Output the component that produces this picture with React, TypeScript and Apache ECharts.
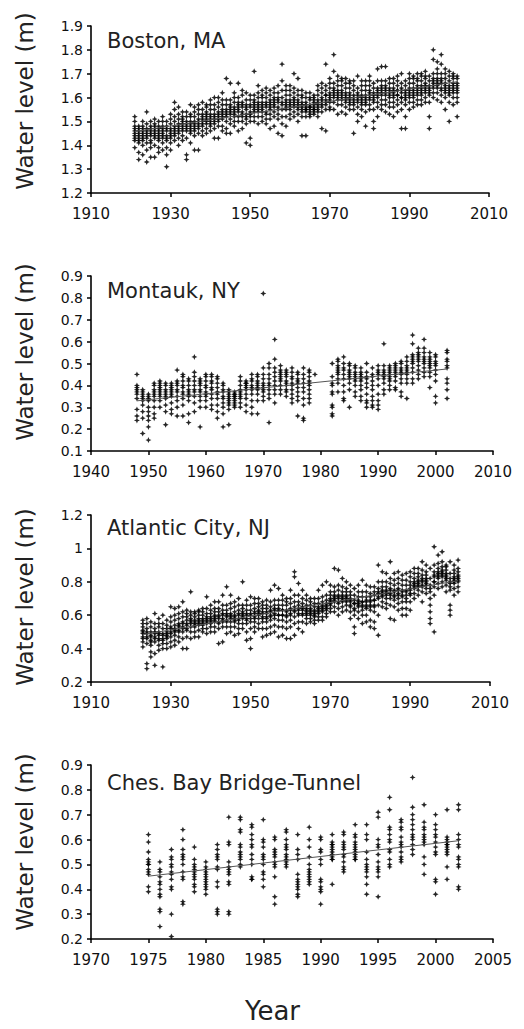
import React, { useEffect, useRef } from "react";
import * as echarts from "echarts";

// Monthly mean water levels, grouped by year: [year, values in cm...]
const bostonCm: number[][] = [
  [1921,152,150,147,146,145,144,143,142,139,148],
  [1922,134,137,142,144,145,146,148,143,141,147],
  [1923,136,140,143,145,146,147,148,150,144,142],
  [1924,154,133,138,141,144,146,147,149,145,143],
  [1925,135,139,142,144,145,147,148,150,146,141],
  [1926,135,140,143,145,146,148,149,151,147,144],
  [1927,137,139,142,144,146,147,148,150,145,143],
  [1928,138,141,143,145,147,148,150,152,146,144],
  [1929,131,136,139,142,144,146,148,150,147,143],
  [1930,138,141,143,145,147,149,151,153,146,144],
  [1931,142,144,146,148,150,152,155,158,147,145],
  [1932,140,143,145,147,149,151,153,156,148,146],
  [1933,142,144,146,148,149,151,152,154,147,150],
  [1934,134,136,143,146,148,150,152,154,147,149],
  [1935,141,145,147,149,150,152,153,157,148,146],
  [1936,138,144,146,148,150,152,154,156,149,147],
  [1937,138,145,147,149,151,153,155,157,150,148],
  [1938,144,146,148,150,152,153,155,158,151,149],
  [1939,145,147,149,151,153,154,156,157,152,150],
  [1940,146,148,150,152,153,155,157,159,151,149],
  [1941,143,147,149,151,153,155,157,160,152,150],
  [1942,143,148,150,152,154,156,158,160,153,151],
  [1943,146,148,151,153,155,157,159,162,154,152],
  [1944,145,147,150,152,155,157,159,168,154,153],
  [1945,145,149,151,153,155,157,159,166,156,154],
  [1946,148,150,152,154,156,158,160,162,155,153],
  [1947,146,150,152,154,156,158,160,166,157,155],
  [1948,147,150,152,154,156,158,161,163,157,153],
  [1949,141,149,151,153,155,157,159,162,156,152],
  [1950,140,143,150,152,154,157,159,161,156,153],
  [1951,150,152,154,156,157,159,161,171,158,155],
  [1952,149,152,154,156,158,160,162,165,157,155],
  [1953,150,152,154,156,158,160,161,163,157,155],
  [1954,149,151,153,156,158,160,162,164,157,154],
  [1955,147,151,153,155,157,159,161,163,158,156],
  [1956,148,152,154,156,158,160,162,164,159,157],
  [1957,145,151,153,155,158,160,162,165,159,156],
  [1958,144,149,152,155,158,160,163,174,167,157],
  [1959,148,152,155,157,159,161,163,165,158,156],
  [1960,151,153,155,157,159,161,163,165,158,156],
  [1961,152,154,156,158,160,162,164,170,159,157],
  [1962,150,153,155,157,159,161,163,168,158,156],
  [1963,144,152,154,156,158,160,161,163,157,155],
  [1964,144,152,154,155,157,158,160,162,156,155],
  [1965,152,153,155,156,157,159,160,162,156,154],
  [1966,153,154,155,157,158,159,160,161,156,155],
  [1967,152,154,156,157,159,161,163,165,158,155],
  [1968,147,154,156,158,160,162,164,166,159,157],
  [1969,146,155,157,159,161,163,165,174,161,158],
  [1970,155,156,158,160,162,164,166,168,161,159],
  [1971,155,158,160,162,164,166,171,178,163,161],
  [1972,153,157,159,161,163,165,167,169,162,160],
  [1973,154,157,159,161,163,165,167,168,162,160],
  [1974,153,156,158,160,162,164,166,168,161,159],
  [1975,155,157,159,161,162,164,166,167,160,158],
  [1976,145,155,157,159,161,163,165,167,160,158],
  [1977,150,153,156,158,160,162,164,169,161,159],
  [1978,152,155,157,159,161,163,165,167,160,158],
  [1979,148,154,157,159,161,163,165,167,160,158],
  [1980,155,157,159,161,163,165,167,169,162,160],
  [1981,147,150,155,158,160,162,164,166,161,159],
  [1982,152,156,158,160,162,164,167,172,163,161],
  [1983,155,157,159,161,163,165,167,173,164,162],
  [1984,154,157,159,161,163,165,167,173,164,162],
  [1985,153,156,158,160,162,164,166,168,163,161],
  [1986,152,156,158,160,162,164,166,168,163,161],
  [1987,154,157,159,161,163,165,167,169,163,161],
  [1988,147,155,158,160,162,164,166,170,163,160],
  [1989,147,152,157,159,161,163,165,167,162,160],
  [1990,155,158,160,162,164,166,168,170,163,161],
  [1991,156,158,160,162,164,166,168,169,163,161],
  [1992,157,159,161,163,165,167,168,170,164,162],
  [1993,157,159,161,163,165,167,169,170,164,162],
  [1994,158,160,162,164,166,168,169,171,165,163],
  [1995,147,152,158,161,163,165,167,169,164,162],
  [1996,160,162,164,166,168,170,176,180,167,165],
  [1997,159,162,164,166,168,170,172,175,167,165],
  [1998,158,161,163,166,168,170,174,178,167,164],
  [1999,155,160,162,164,166,168,170,172,165,163],
  [2000,150,158,161,163,165,167,169,171,164,162],
  [2001,157,160,162,164,166,168,169,170,165,163],
  [2002,152,158,160,162,164,166,168,169,165,163],
];

const montaukCm: number[][] = [
  [1948,24,26,29,34,36,37,38,39,40,45],
  [1949,18,25,28,31,33,34,35,36,37,38],
  [1950,15,21,24,26,28,30,33,34,35,36],
  [1951,25,27,30,33,35,36,37,38,40,41],
  [1952,30,33,35,36,37,38,39,40,41,42],
  [1953,22,28,31,34,35,36,37,38,40,41],
  [1954,27,29,32,35,36,37,38,39,40,41],
  [1955,26,30,33,35,37,38,40,41,42,47],
  [1956,26,31,34,36,37,39,40,42,44,45],
  [1957,23,27,33,35,36,37,38,40,42,43],
  [1958,28,32,35,37,38,40,42,44,46,53],
  [1959,21,30,33,35,37,38,40,41,42,43],
  [1960,30,33,35,36,37,39,40,42,44,45],
  [1961,29,31,34,36,38,39,41,42,44,45],
  [1962,25,28,31,34,36,37,39,41,43,44],
  [1963,21,27,30,32,34,35,37,38,40,41],
  [1964,22,29,31,32,33,34,35,36,37,38],
  [1965,30,31,32,33,34,35,35,36,36,37],
  [1966,30,32,34,35,36,37,38,40,42,44],
  [1967,28,31,34,36,38,39,40,41,41,42],
  [1968,27,30,33,36,38,39,40,42,43,45],
  [1969,27,33,36,38,39,40,41,42,44,45],
  [1970,33,35,37,38,39,40,41,43,45,48,82],
  [1971,23,34,36,38,40,41,43,45,48,50],
  [1972,32,36,38,40,42,44,46,48,52,61],
  [1973,36,38,40,42,43,44,45,46,47,49],
  [1974,35,37,38,40,41,42,44,45,46,47],
  [1975,32,34,36,38,40,41,43,44,46,48],
  [1976,26,33,35,37,39,41,42,43,45,46],
  [1977,24,25,31,34,37,39,41,43,45,48],
  [1978,32,34,36,38,40,41,42,44,46,47],
  [1979,45],
  [1982,26,27,30,31,36,37,40,41,44,50],
  [1983,37,41,43,45,46,47,48,49,51,52],
  [1984,33,34,37,40,43,45,47,48,50,53],
  [1985,30,38,41,43,44,45,46,47,49,50],
  [1986,35,37,40,42,43,44,45,46,48,49],
  [1987,33,35,38,40,42,43,44,45,46,48],
  [1988,30,32,33,36,39,41,43,44,46,50],
  [1989,30,31,33,35,38,40,42,44,45,48],
  [1990,29,31,33,36,40,43,45,46,47,49],
  [1991,36,38,41,43,44,45,46,47,49,59],
  [1992,38,40,42,43,44,45,46,47,48,49],
  [1993,38,39,42,44,45,46,47,48,49,50],
  [1994,35,37,41,43,45,46,47,48,50,51],
  [1995,34,41,43,45,46,47,48,49,51,53],
  [1996,41,43,46,48,50,51,52,53,54,59,63],
  [1997,43,45,47,49,51,52,53,54,55,57],
  [1998,44,46,48,50,51,52,53,55,57,61],
  [1999,39,44,46,48,49,50,51,52,53,55],
  [2000,32,35,42,45,47,49,50,51,53,54],
  [2002,34,38,41,43,48,49,51,52,55,56],
];

const atlanticCityCm: number[][] = [
  [1923,41,44,47,49,51,53,55,57,50,46],
  [1924,28,31,43,46,49,52,55,58,50,47],
  [1925,35,38,42,45,48,50,53,56,47,44],
  [1926,30,37,44,47,49,52,55,61,50,46],
  [1927,39,42,45,48,50,53,55,58,49,46],
  [1928,29,40,43,46,49,52,55,60,48,45],
  [1929,40,43,46,48,50,52,54,57,49,47],
  [1930,41,44,47,50,53,56,59,65,52,49],
  [1931,42,45,48,51,54,57,60,64,52,50],
  [1932,44,47,50,53,55,58,61,65,54,51],
  [1933,40,46,50,53,56,59,62,68,55,52],
  [1934,40,47,51,54,57,59,61,63,55,52],
  [1935,46,50,53,56,58,60,62,74,57,55],
  [1936,47,50,53,55,57,59,61,62,56,54],
  [1937,47,51,54,56,58,60,62,63,57,55],
  [1938,50,52,54,56,58,60,62,64,57,55],
  [1939,49,52,55,57,59,61,64,71,58,56],
  [1940,50,53,55,57,59,61,63,66,58,56],
  [1941,50,53,56,58,60,62,64,68,59,57],
  [1942,43,52,55,58,60,62,64,68,59,56],
  [1943,44,53,56,58,61,63,66,72,60,57],
  [1944,49,53,56,59,61,63,66,77,60,57],
  [1945,50,53,56,59,61,64,67,72,60,58],
  [1946,48,53,56,58,60,62,65,68,59,57],
  [1947,49,52,55,58,61,63,66,70,60,57],
  [1948,52,55,58,60,62,64,66,80,61,59],
  [1949,45,50,55,58,61,63,66,69,60,57],
  [1950,40,46,52,56,60,63,66,71,61,58],
  [1951,50,53,56,59,62,64,67,70,61,58],
  [1952,52,55,58,61,63,65,67,70,62,60],
  [1953,47,52,56,59,62,64,66,68,61,58],
  [1954,48,52,56,59,62,64,66,69,61,58],
  [1955,49,53,57,60,62,65,68,75,63,59],
  [1956,50,54,58,61,63,66,69,78,64,60],
  [1957,47,53,57,60,63,66,69,76,64,60],
  [1958,48,53,57,60,63,66,69,72,63,60],
  [1959,46,52,56,60,63,66,68,70,62,59],
  [1960,46,53,57,61,64,67,70,75,63,60],
  [1961,48,55,59,62,65,68,72,86,83,63],
  [1962,52,56,60,63,66,68,72,79,64,61],
  [1963,50,56,60,63,65,67,70,75,64,61],
  [1964,55,58,60,62,64,66,69,72,63,61],
  [1965,56,58,60,62,64,66,68,70,63,61],
  [1966,55,57,59,61,63,65,67,70,62,60],
  [1967,57,59,61,63,65,67,70,75,64,62],
  [1968,57,59,62,64,66,68,71,78,65,63],
  [1969,59,61,63,65,67,69,72,80,66,64],
  [1970,62,64,66,68,70,72,74,78,69,67],
  [1971,62,65,68,70,72,74,77,88,71,69],
  [1972,60,64,67,70,72,75,78,87,71,68],
  [1973,62,65,68,70,72,74,77,82,71,69],
  [1974,63,66,68,70,72,74,76,80,71,69],
  [1975,58,62,65,68,70,72,74,78,69,66],
  [1976,49,53,60,64,67,69,72,76,67,63],
  [1977,58,62,65,67,69,71,74,78,68,66],
  [1978,55,60,63,66,68,71,74,81,68,65],
  [1979,56,60,64,66,69,71,74,78,68,65],
  [1980,53,57,63,66,69,71,73,77,68,65],
  [1981,52,56,62,66,69,72,74,77,69,65],
  [1982,48,60,66,70,73,76,80,90,74,71],
  [1983,65,68,71,73,75,77,80,86,74,72],
  [1984,64,67,70,73,75,77,80,85,74,72],
  [1985,58,66,70,73,76,79,82,92,75,72],
  [1986,57,65,69,72,75,78,81,85,74,71],
  [1987,63,67,70,73,76,79,82,86,75,72],
  [1988,60,64,68,72,75,78,81,84,74,71],
  [1989,60,64,68,72,75,78,81,85,74,70],
  [1990,63,68,72,75,78,80,83,86,76,73],
  [1991,70,73,76,78,80,82,85,88,79,77],
  [1992,72,75,77,79,81,83,85,88,80,78],
  [1993,68,74,77,80,82,84,87,92,81,78],
  [1994,73,76,78,80,82,84,86,90,81,79],
  [1995,55,58,62,66,74,78,82,88,76,70],
  [1996,50,72,77,80,83,86,90,101,84,80],
  [1997,76,79,82,84,86,88,91,96,85,83],
  [1998,77,80,83,85,87,89,92,98,86,84],
  [1999,74,78,81,83,85,87,89,90,84,82],
  [2000,60,63,66,75,79,82,85,92,80,77],
  [2001,72,76,79,81,83,85,87,90,82,80],
  [2002,74,77,80,82,84,86,88,93,83,81],
];

const chesBayCm: number[][] = [
  [1975,62,59,55,52,51,50,48,47,46,41,39,50],
  [1976,51,48,45,43,42,40,38,37,32,31,25,47],
  [1977,56,53,52,49,47,46,41,40,30,21,50,44],
  [1978,64,60,56,54,53,50,47,45,44,35,34,52],
  [1979,57,52,50,49,47,45,44,42,41,39,48,46],
  [1980,51,49,48,47,46,45,44,43,41,40,38,42],
  [1981,58,56,54,53,52,49,48,43,41,32,31,30],
  [1982,69,59,58,51,49,48,47,46,43,42,31,30],
  [1983,69,68,64,63,58,57,55,54,53,52,49,50],
  [1984,66,65,62,60,58,57,54,52,50,45,44,44],
  [1985,68,60,59,57,54,53,52,50,47,46,44,41],
  [1986,61,60,56,55,54,53,51,50,49,45,37,34],
  [1987,64,63,60,58,57,56,54,53,52,51,50,49],
  [1988,62,56,54,52,46,44,43,42,41,40,38,37],
  [1989,65,60,57,53,50,48,47,46,45,44,43,42],
  [1990,61,60,56,55,52,50,44,43,41,40,39,34],
  [1991,62,59,58,57,56,55,54,53,52,52,42,58],
  [1992,63,62,59,58,57,56,54,53,51,49,48,47],
  [1993,66,62,61,59,58,57,56,55,54,53,52,52],
  [1994,66,62,60,55,52,50,48,47,45,42,38,49],
  [1995,71,69,60,58,57,54,51,49,48,47,45,37],
  [1996,77,72,65,64,62,60,59,56,55,52,50,49],
  [1997,68,67,65,64,61,59,58,57,55,53,52,51],
  [1998,85,73,70,68,66,64,62,61,60,58,56,54],
  [1999,74,67,65,64,62,61,60,58,53,50,46,59],
  [2000,70,66,64,62,61,59,57,55,54,44,43,38],
  [2001,72,61,60,59,58,57,56,55,54,49,44,58],
  [2002,74,72,62,58,57,53,52,50,49,41,40,60],
];

const stationNames = ["Boston, MA", "Montauk, NY", "Atlantic City, NJ", "Ches. Bay Bridge-Tunnel"];
const xRanges = [[1910, 2010, 20], [1940, 2010, 10], [1910, 2010, 20], [1970, 2005, 5]];
const yRanges = [[1.2, 1.9, 0.1], [0.1, 0.9, 0.1], [0.2, 1.2, 0.2], [0.2, 0.9, 0.1]];
const yAxisTitle = "Water level (m)";
const xAxisTitle = "Year";

const stationData = [bostonCm, montaukCm, atlanticCityCm, chesBayCm];

// layout (pixels)
const grids = [
  { left: 91, top: 26, width: 398, height: 167 },
  { left: 91, top: 276, width: 402, height: 175 },
  { left: 91, top: 515, width: 399, height: 167 },
  { left: 91, top: 765, width: 402, height: 174 },
];
const titleY = [43, 293, 530, 785];
const yNameY = [101, 352, 597, 842];

const FONT = "DejaVu Sans";
const STAR = "path://M5 0L6.5 3.5L10 5L6.5 6.5L5 10L3.5 6.5L0 5L3.5 3.5Z";

function toPoints(rows: number[][]): number[][] {
  const pts: number[][] = [];
  rows.forEach((r) => {
    for (let i = 1; i < r.length; i++) pts.push([r[0], r[i] / 100]);
  });
  return pts;
}

function trend(pts: number[][]): number[][] {
  let n = 0, sx = 0, sy = 0, sxx = 0, sxy = 0;
  let xmin = Infinity, xmax = -Infinity;
  pts.forEach(([x, y]) => {
    n++; sx += x; sy += y; sxx += x * x; sxy += x * y;
    if (x < xmin) xmin = x;
    if (x > xmax) xmax = x;
  });
  const b = (n * sxy - sx * sy) / (n * sxx - sx * sx);
  const a = (sy - b * sx) / n;
  return [[xmin, a + b * xmin], [xmax, a + b * xmax]];
}

export default function App() {
  const ref = useRef<HTMLDivElement>(null);
  useEffect(() => {
    document.body.style.margin = "0";
    if (!ref.current) return;
    const chart = echarts.init(ref.current, undefined, { renderer: "svg" });
    const series: any[] = [];
    stationData.forEach((rows, i) => {
      const pts = toPoints(rows);
      series.push({
        type: "scatter",
        xAxisIndex: i,
        yAxisIndex: i,
        data: pts,
        symbol: STAR,
        symbolSize: 6,
        itemStyle: { color: "#000", opacity: 0.85 },
        silent: true,
        z: 2,
      });
      series.push({
        type: "line",
        xAxisIndex: i,
        yAxisIndex: i,
        data: trend(pts),
        symbol: "none",
        lineStyle: { color: "#555", width: 1 },
        silent: true,
        z: 3,
      });
    });
    const axisLine = { show: true, onZero: false, lineStyle: { color: "#000", width: 1.6 } };
    const axisTick = { show: true, inside: false, length: 4, lineStyle: { color: "#000", width: 1.5 } };
    chart.setOption({
      animation: false,
      backgroundColor: "#fff",
      grid: grids.map((g) => ({ ...g, containLabel: false })),
      xAxis: xRanges.map(([mn, mx, iv], i) => ({
        type: "value",
        gridIndex: i,
        min: mn,
        max: mx,
        interval: iv,
        axisLine,
        axisTick,
        splitLine: { show: false },
        axisLabel: { color: "#111", fontFamily: FONT, fontSize: 15, margin: 13, formatter: (v: number) => String(v) },
      })),
      yAxis: yRanges.map(([mn, mx, iv], i) => ({
        type: "value",
        gridIndex: i,
        min: mn,
        max: mx,
        interval: iv,
        axisLine,
        axisTick,
        splitLine: { show: false },
        axisLabel: {
          color: "#111",
          fontFamily: FONT,
          fontSize: 14,
          margin: 8,
          formatter: (v: number) => String(Math.round(v * 10) / 10),
        },
      })),
      graphic: [
        ...stationNames.map((name, i) => ({
          type: "text",
          left: 107,
          top: titleY[i] - 13,
          style: { text: name, fontFamily: FONT, fontSize: 21, fill: "#222" },
        })),
        ...yNameY.map((cy) => ({
          type: "text",
          x: 25,
          y: cy,
          rotation: Math.PI / 2,
          style: {
            text: yAxisTitle,
            fontFamily: FONT,
            fontSize: 23,
            fill: "#222",
            align: "center",
            verticalAlign: "middle",
          },
        })),
        {
          type: "text",
          left: 245,
          top: 998,
          style: { text: xAxisTitle, fontFamily: FONT, fontSize: 26, fill: "#222" },
        },
      ],
      series,
    });
    return () => chart.dispose();
  }, []);
  return <div ref={ref} style={{ width: 524, height: 1029 }} />;
}
